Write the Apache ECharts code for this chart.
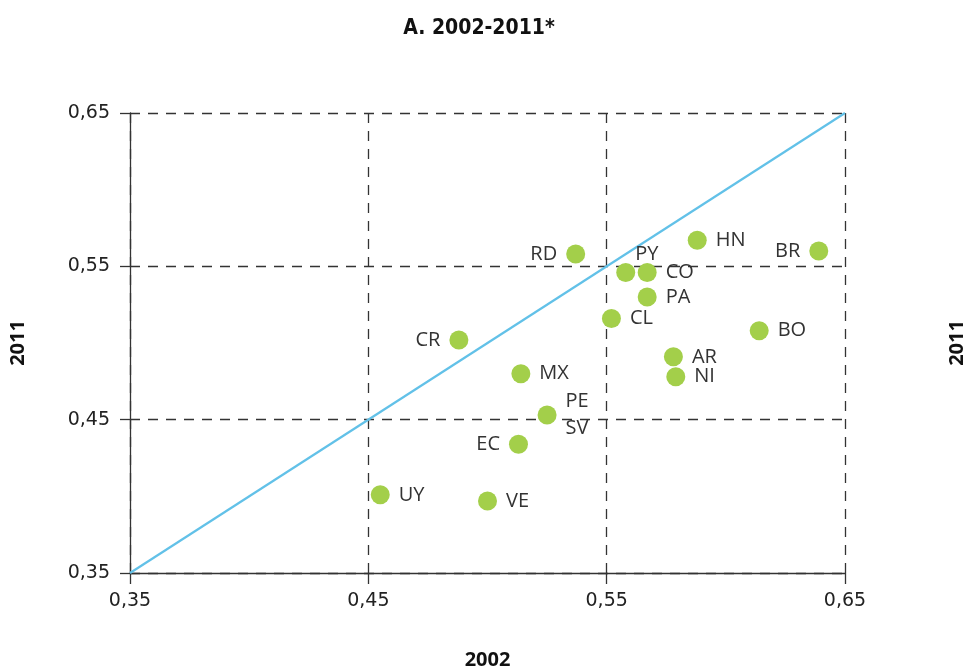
<!DOCTYPE html>
<html>
<head>
<meta charset="utf-8">
<script src="https://cdn.jsdelivr.net/npm/echarts@6/dist/echarts.min.js"></script>
<style>html,body{margin:0;padding:0;background:#fff}#c{width:964px;height:670px}</style>
</head>
<body>
<div id="c"></div>
<script>
const countries = ['RD','PY','CO','HN','BR','PA','CL','BO','CR','AR','NI','MX','PE\nSV','EC','UY','VE'];
const x2002 = [0.537,0.558,0.567,0.588,0.639,0.567,0.552,0.614,0.488,0.578,0.579,0.514,0.525,0.513,0.455,0.500];
const y2011 = [0.558,0.546,0.546,0.567,0.560,0.530,0.516,0.508,0.502,0.491,0.478,0.480,0.453,0.434,0.401,0.397];
const diagonal = [[0.35,0.35],[0.65,0.65]];

const leftLabels = ['RD','CR','EC','BR'];
const topLabels = ['PY'];
const data = countries.map((c,i)=>{
  const d = {name:c, value:[x2002[i], y2011[i]]};
  if (leftLabels.includes(c)) d.label = {position:'left'};
  if (topLabels.includes(c)) d.label = {position:[19,-22]};
  return d;
});
const fmt = v => v.toFixed(2).replace('.', ',');
const tickFont = {fontFamily:'DejaVu Sans', fontSize:19, color:'#222'};
const nameFont = {fontFamily:'Open Sans', fontWeight:'bold', fontSize:20, color:'#111'};
const split = {show:true, lineStyle:{color:'#333', type:[10,8], width:1.3}};
const chart = echarts.init(document.getElementById('c'));
chart.setOption({
  animation:false,
  title:{text:'A. 2002-2011*', left:'center', top:13, left:474, textAlign:'center',
    textStyle:{fontFamily:'Liberation Sans Narrow, DejaVu Sans Condensed, sans-serif', fontWeight:'bold', fontSize:21, color:'#111'}},
  grid:{left:130, right:119, top:113, bottom:97, outerBoundsMode:'none', containLabel:false},
  xAxis:{type:'value', min:0.35, max:0.65, interval:0.1,
    name:'2002', nameLocation:'middle', nameGap:77, nameTextStyle:nameFont,
    axisLine:{show:true, lineStyle:{color:'#333', width:1.3}},
    axisTick:{show:true, length:11, lineStyle:{color:'#333', width:1.3}},
    axisLabel:Object.assign({formatter:fmt, margin:19}, tickFont),
    splitLine:split},
  yAxis:[{type:'value', min:0.35, max:0.65, interval:0.1,
    name:'2011', nameLocation:'middle', nameGap:102, nameTextStyle:nameFont,
    axisLine:{show:true, lineStyle:{color:'#333', width:1.3}},
    axisTick:{show:true, length:10, lineStyle:{color:'#333', width:1.3}},
    axisLabel:Object.assign({formatter:fmt, margin:20}, tickFont),
    splitLine:split},
   {type:'value', min:0.35, max:0.65, interval:0.1, position:'right',
    name:'2011', nameLocation:'middle', nameGap:102, nameRotate:90, nameTextStyle:nameFont,
    axisLine:{show:false}, axisTick:{show:false}, axisLabel:{show:false}, splitLine:{show:false}}],
  series:[
    {type:'line', data:diagonal, symbol:'none', lineStyle:{color:'#62c1e8', width:2.2}, z:2, silent:true},
    {type:'scatter', data:data, symbolSize:19, itemStyle:{color:'#a3cf4a', opacity:1}, z:3,
     label:{show:true, position:'right', distance:9, formatter:p=>p.name,
       fontFamily:'Open Sans', fontSize:20, color:'#333', lineHeight:27}}
  ]
});
</script>
</body>
</html>
